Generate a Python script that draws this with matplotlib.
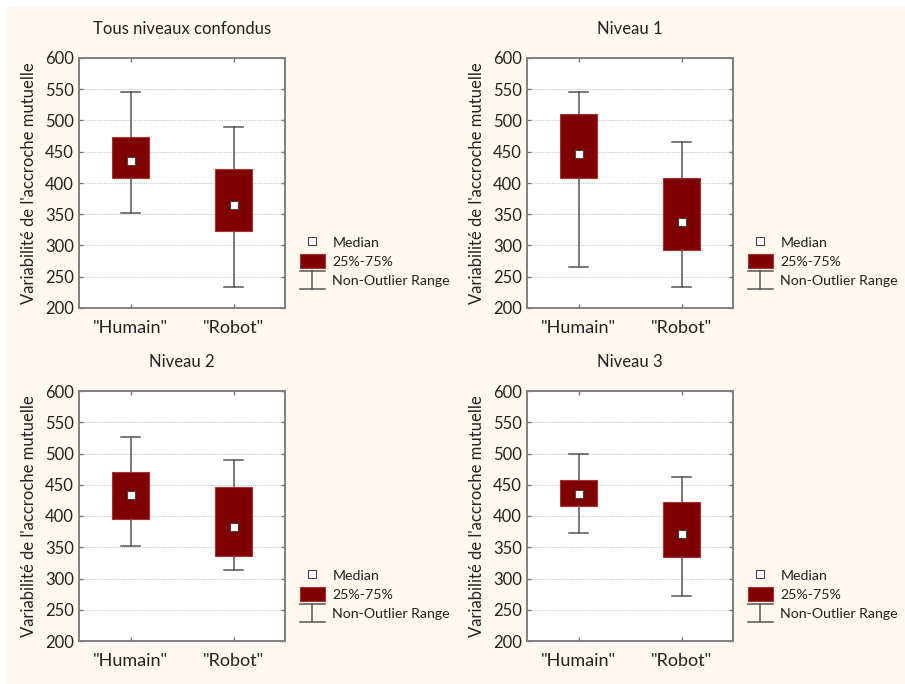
import matplotlib
matplotlib.use("Agg")
import matplotlib.pyplot as plt
from matplotlib.lines import Line2D
from matplotlib.patches import Patch, Rectangle
from matplotlib.legend_handler import HandlerBase

plt.rcParams["font.family"] = ["Lato", "DejaVu Sans"]

categories = ['"Humain"', '"Robot"']
titles = ["Tous niveaux confondus", "Niveau 1", "Niveau 2", "Niveau 3"]
ylabel = "Variabilité de l'accroche mutuelle"

# one row per panel, columns = [Humain, Robot]
whisker_low = [[352, 234], [265, 234], [352, 314], [373, 272]]
q1 = [[408, 323], [408, 293], [396, 336], [416, 334]]
median = [[435, 364], [446, 338], [433, 382], [435, 372]]
q3 = [[473, 422], [511, 408], [471, 446], [458, 422]]
whisker_high = [[546, 490], [546, 466], [527, 490], [499, 462]]

BOX = "#7f0000"
BOX_EDGE = "#a83232"
WHISK = "#555555"
CREAM = "#fef9ee"
TEXT = "#222222"


class WhiskerHandler(HandlerBase):
    def create_artists(self, legend, orig_handle, xdescent, ydescent,
                       width, height, fontsize, trans):
        x0, x1 = -xdescent, -xdescent + width
        y0, y1 = -ydescent - 0.15 * height, -ydescent + 1.1 * height
        xm = (x0 + x1) / 2
        kw = dict(color=WHISK, lw=1.1, transform=trans)
        return [Line2D([x0, x1], [y1, y1], **kw),
                Line2D([x0, x1], [y0, y0], **kw),
                Line2D([xm, xm], [y0, y1], **kw)]


fig = plt.figure(figsize=(9.05, 6.84), dpi=100, facecolor="white")
fig.patches.append(Rectangle((7 / 905, 0), 1, 1 - 7 / 684, transform=fig.transFigure,
                             facecolor=CREAM, edgecolor="none", zorder=-10))

W, H = 905, 684
panel_px = [(79, 58), (527, 58), (79, 391), (527, 391)]
aw, ah = 206, 250

positions = [1, 2]
for i, (px, py) in enumerate(panel_px):
    ax = fig.add_axes([px / W, 1 - (py + ah) / H, aw / W, ah / H])
    ax.set_facecolor("white")
    stats = []
    for j in range(2):
        stats.append(dict(whislo=whisker_low[i][j], q1=q1[i][j], med=median[i][j],
                          q3=q3[i][j], whishi=whisker_high[i][j], fliers=[]))
    ax.bxp(stats, positions=positions, widths=0.355, capwidths=0.19,
           patch_artist=True, showfliers=False,
           boxprops=dict(facecolor=BOX, edgecolor=BOX_EDGE, lw=0.8),
           whiskerprops=dict(color=WHISK, lw=1.1),
           capprops=dict(color=WHISK, lw=1.1),
           medianprops=dict(visible=False))
    ax.plot(positions, median[i], ls="none", marker="s", ms=5.5,
            mfc="white", mec="#444444", mew=0.8, zorder=5)

    ax.set_xlim(0.5, 2.5)
    ax.set_ylim(200, 600)
    ax.set_yticks(range(200, 601, 50))
    ax.set_xticks(positions)
    ax.set_xticklabels(categories, fontsize=13, color=TEXT)
    ax.tick_params(axis="y", labelsize=12, labelcolor=TEXT)
    ax.tick_params(direction="in", top=True, right=True, length=3,
                   color="#777777", width=1)
    ax.tick_params(axis="x", pad=9)
    ax.yaxis.grid(True, ls=(0, (1, 1)), color="#c8c8c8", lw=0.8)
    ax.set_axisbelow(True)
    for s in ax.spines.values():
        s.set_color("#808080")
        s.set_linewidth(1.4)
    ax.set_ylabel(ylabel, fontsize=12, color=TEXT, labelpad=6)
    ax.set_title(titles[i], fontsize=12, color=TEXT, pad=17)

    handles = [Line2D([], [], ls="none", marker="s", ms=5.5, mfc="white",
                      mec="#444444", mew=0.8),
               Patch(facecolor=BOX, edgecolor=BOX_EDGE, lw=0.8),
               Line2D([], [], color=WHISK)]
    ax.legend(handles, ["Median", "25%-75%", "Non-Outlier Range"],
              handler_map={handles[2]: WhiskerHandler()},
              loc="upper left", bbox_to_anchor=(1.037, 0.318), frameon=False,
              fontsize=10.2, handlelength=1.8, handleheight=1.15,
              handletextpad=0.5, labelspacing=0.32, borderpad=0,
              labelcolor=TEXT)

fig.savefig("out.png", dpi=100, facecolor=fig.get_facecolor())
